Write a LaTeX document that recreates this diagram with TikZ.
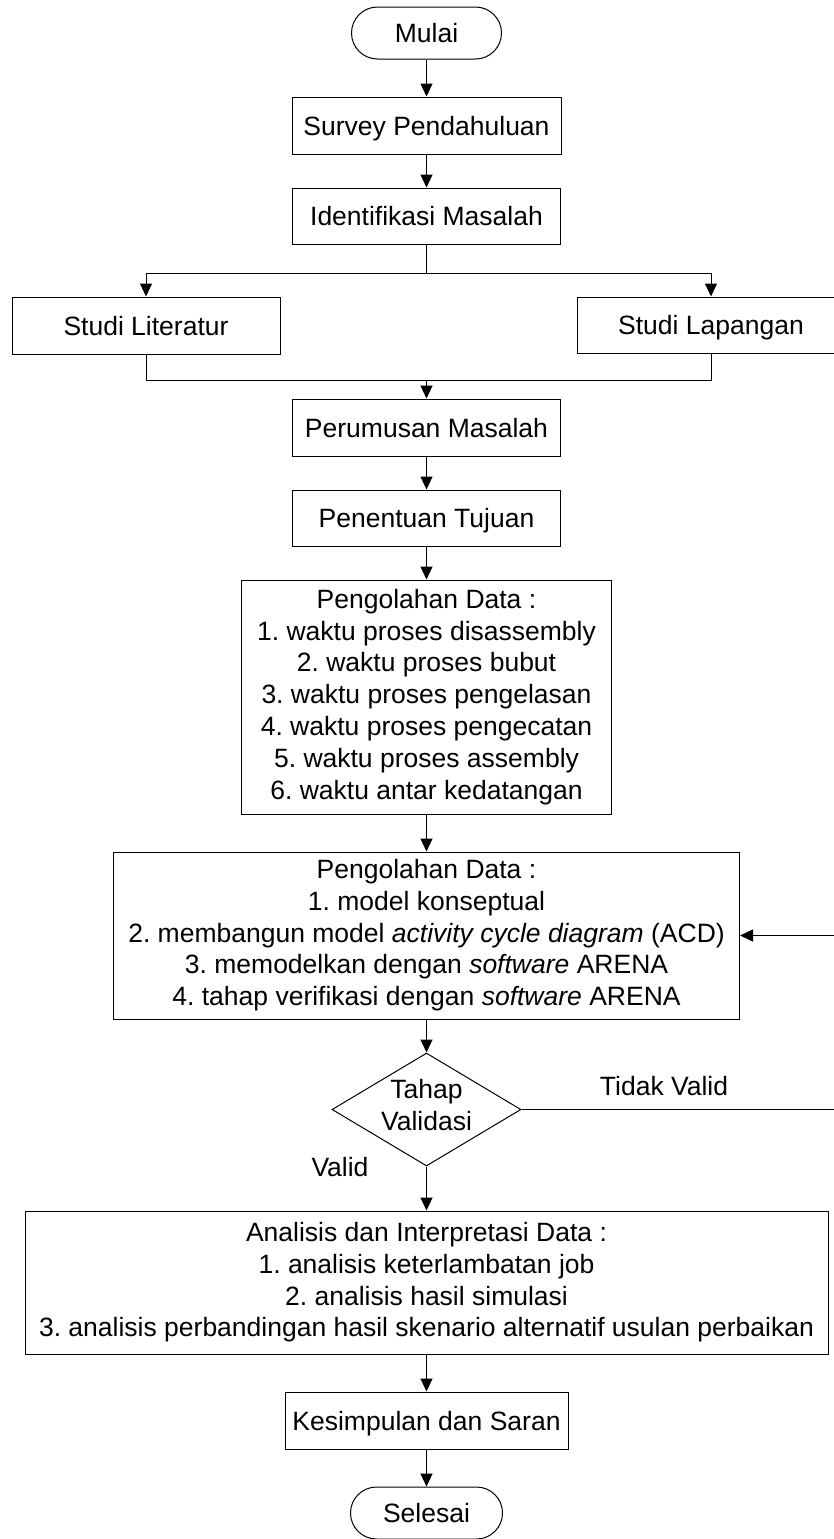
\documentclass[tikz,border=0pt]{standalone}
\usepackage{fontspec}
\setmainfont{Liberation Sans}
\frenchspacing
\usetikzlibrary{shapes.geometric,arrows.meta}
\newcommand{\mystrut}{\rule[-6pt]{0pt}{31pt}}
\begin{document}
\begin{tikzpicture}[x=1pt,y=-1pt,
  every node/.style={font=\fontsize{26.5}{31.8}\selectfont\frenchspacing, inner sep=0pt, align=center},
  box/.style={draw, line width=1pt, rectangle, execute at begin node=\mystrut, execute at end node=\mystrut},
  term/.style={draw, line width=1pt, rectangle, rounded corners=26pt, minimum width=150pt, minimum height=52pt, execute at begin node=\mystrut},
  dec/.style={draw, line width=1pt, diamond, minimum width=189pt, minimum height=113pt},
  lbl/.style={execute at begin node=\mystrut},
  arr/.style={line width=1pt, -{Triangle[length=13pt,width=12pt]}},
  ln/.style={line width=1pt}]
\useasboundingbox (0,0) rectangle (833,1539);

\node[term] (mulai) at (426.5,33) {Mulai};
\node[box, minimum width=269pt, minimum height=57pt] (survey) at (426.5,125.5) {Survey Pendahuluan};
\node[box, minimum width=268pt, minimum height=56pt] (ident) at (426.5,216) {Identifikasi Masalah};
\node[box, minimum width=268pt, minimum height=57pt] (lit) at (146,325.5) {Studi Literatur};
\node[box, minimum width=268pt, minimum height=56pt] (lap) at (711,325) {Studi Lapangan};
\node[box, minimum width=268pt, minimum height=57pt] (perum) at (426.5,427.5) {Perumusan Masalah};
\node[box, minimum width=268pt, minimum height=56pt] (tujuan) at (426.5,518) {Penentuan Tujuan};
\node[box, minimum width=370pt, minimum height=234pt] (olah1) at (426.5,697) {Pengolahan Data :\\1. waktu proses disassembly\\2. waktu proses bubut\\3. waktu proses pengelasan\\4. waktu proses pengecatan\\5. waktu proses assembly\\6. waktu antar kedatangan};
\node[box, minimum width=626pt, minimum height=167pt] (olah2) at (426.5,935.5) {Pengolahan Data :\\1. model konseptual\\2. membangun model \textit{activity cycle diagram} (ACD)\\3. memodelkan dengan \textit{software} ARENA\\4. tahap verifikasi dengan \textit{software} ARENA};
\node[dec] (dia) at (426.5,1109.5) {};
\node[lbl] (diatext) at (426.5,1108) {Tahap\\Validasi};
\node[box, minimum width=803pt, minimum height=143pt] (anal) at (426.5,1282.5) {Analisis dan Interpretasi Data :\\1. analisis keterlambatan job\\2. analisis hasil simulasi\\3. analisis perbandingan hasil skenario alternatif usulan perbaikan};
\node[box, minimum width=283pt, minimum height=57pt] (kes) at (426.5,1420.5) {Kesimpulan dan Saran};
\node[term, minimum width=152pt] (selesai) at (426.5,1513) {Selesai};

\node[lbl] (tv) at (664,1086) {Tidak Valid};
\node[lbl] (vl) at (340,1167) {Valid};

\coordinate (split) at (426.5,273);
\coordinate (merge) at (426.5,380);
\coordinate (rt) at (836,1109.5);

\draw[arr] (mulai) -- (survey);
\draw[arr] (survey) -- (ident);
\draw[ln] (ident.south) -- (split);
\draw[arr] (split) -| (lit.north);
\draw[arr] (split) -| (lap.north);
\draw[ln] (lit.south) |- (merge);
\draw[ln] (lap.south) |- (merge);
\draw[arr] (merge) -- (perum.north);
\draw[arr] (perum) -- (tujuan);
\draw[arr] (tujuan) -- (olah1);
\draw[arr] (olah1) -- (olah2);
\draw[arr] (olah2.south) -- (dia.north);
\draw[arr] (dia.south) -- (anal.north);
\draw[arr] (dia.east) -- (rt) |- (olah2.east);
\draw[arr] (anal) -- (kes);
\draw[arr] (kes) -- (selesai);
\end{tikzpicture}
\end{document}
